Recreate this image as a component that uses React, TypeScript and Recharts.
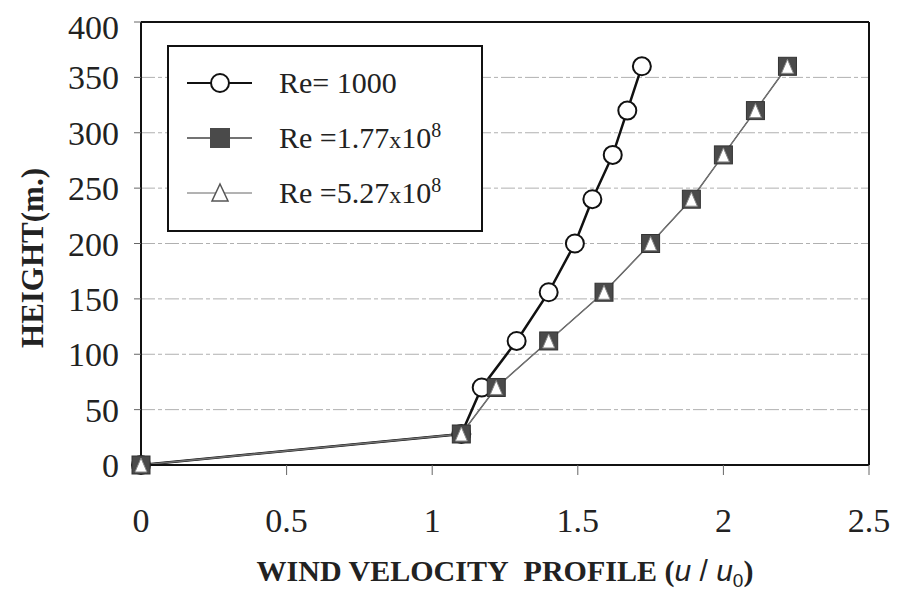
import { LineChart, Line, XAxis, YAxis, CartesianGrid, Legend, ReferenceLine } from 'recharts';

const heights = [0, 28, 70, 112, 156, 200, 240, 280, 320, 360];
const uRe1000 = [0, 1.1, 1.17, 1.29, 1.4, 1.49, 1.55, 1.62, 1.67, 1.72];
const uRe177 = [0, 1.1, 1.22, 1.4, 1.59, 1.75, 1.89, 2.0, 2.11, 2.22];
const uRe527 = [0, 1.1, 1.22, 1.4, 1.59, 1.75, 1.89, 2.0, 2.11, 2.22];
const xTicks = [0, 0.5, 1, 1.5, 2, 2.5];
const yTicks = [0, 50, 100, 150, 200, 250, 300, 350, 400];

const toPoints = (us: number[]) => us.map((u, i) => ({ u, h: heights[i] }));

const serif = '"Liberation Serif", "Times New Roman", serif';
const sans = '"Liberation Sans", Arial, sans-serif';

const CircleDot = (p: any) => {
  if (p.cx == null || p.cy == null) return <g key={p.index} />;
  return <circle key={p.index} cx={p.cx} cy={p.cy} r={9} fill="#fff" stroke="#111" strokeWidth={2} />;
};

const SquareDot = (p: any) => {
  if (p.cx == null || p.cy == null) return <g key={p.index} />;
  return <rect key={p.index} x={p.cx - 9} y={p.cy - 9} width={18} height={18} fill="#4a4a4a" stroke="#333" strokeWidth={1} />;
};

const TriangleDot = (p: any) => {
  if (p.cx == null || p.cy == null) return <g key={p.index} />;
  const { cx, cy } = p;
  return (
    <polygon
      key={p.index}
      points={`${cx},${cy - 7} ${cx + 6},${cy + 7} ${cx - 6},${cy + 7}`}
      fill="#fff"
      stroke="#888"
      strokeWidth={1}
    />
  );
};

const sup8 = <span style={{ position: 'relative', top: -11, fontSize: 20 }}>8</span>;

const LegendBox = () => {
  const row = (icon: any, label: any, top: number) => (
    <div style={{ position: 'absolute', left: 0, top: top - 20, height: 40, width: '100%' }}>
      <svg width={90} height={40} style={{ position: 'absolute', left: 16, top: 0 }}>
        {icon}
      </svg>
      <div style={{ position: 'absolute', left: 110, top: 0, lineHeight: '40px', fontSize: 30, whiteSpace: 'nowrap' }}>
        {label}
      </div>
    </div>
  );
  return (
    <div
      style={{
        position: 'relative',
        width: 312,
        height: 183,
        border: '2px solid #111',
        background: '#fff',
        fontFamily: serif,
        color: '#222',
      }}
    >
      {row(
        <g>
          <line x1={2} y1={20} x2={67} y2={20} stroke="#111" strokeWidth={2} />
          <circle cx={35} cy={20} r={9} fill="#fff" stroke="#111" strokeWidth={2} />
        </g>,
        <span>Re= 1000</span>,
        36,
      )}
      {row(
        <g>
          <line x1={2} y1={20} x2={67} y2={20} stroke="#444" strokeWidth={1.5} />
          <rect x={25} y={10} width={20} height={20} fill="#4a4a4a" />
        </g>,
        <span>
          Re =1.77<span style={{ fontSize: 24 }}>x</span>10{sup8}
        </span>,
        91,
      )}
      {row(
        <g>
          <line x1={2} y1={20} x2={67} y2={20} stroke="#666" strokeWidth={1} />
          <polygon points="35,11 43,28 27,28" fill="#fff" stroke="#555" strokeWidth={1.5} />
        </g>,
        <span>
          Re =5.27<span style={{ fontSize: 24 }}>x</span>10{sup8}
        </span>,
        146,
      )}
    </div>
  );
};

const XTitle = (props: any) => {
  const vb = props.viewBox || { x: 0, y: 0, width: 0, height: 0 };
  const cx = vb.x + vb.width / 2;
  return (
    <text x={cx} y={vb.y + 116} textAnchor="middle" style={{ fontFamily: serif, fontWeight: 'bold', fontSize: 30 }} fill="#222">
      WIND VELOCITY{'\u00a0\u00a0'}PROFILE (
      <tspan style={{ fontFamily: sans, fontStyle: 'italic', fontWeight: 'normal' }}>u</tspan>
      <tspan style={{ fontFamily: sans, fontWeight: 'normal' }}> / </tspan>
      <tspan style={{ fontFamily: sans, fontStyle: 'italic', fontWeight: 'normal' }}>u</tspan>
      <tspan style={{ fontFamily: sans, fontWeight: 'normal', fontSize: 19 }} dy={6}>0</tspan>
      <tspan dy={-6}>)</tspan>
    </text>
  );
};

const YTitle = () => {
  const cy = 250;
  const x = 24;
  return (
    <text
      x={x}
      y={cy}
      transform={`rotate(-90 ${x} ${cy})`}
      textAnchor="middle"
      dominantBaseline="central"
      style={{ fontFamily: serif, fontWeight: 'bold', fontSize: 31 }}
      fill="#222"
    >
      HEIGHT(m.)
    </text>
  );
};

export default function App() {
  return (
    <div style={{ fontFamily: serif }}>
      <LineChart width={891} height={594} margin={{ top: 14, right: 30, bottom: 0, left: 0 }} style={{ fontFamily: serif }}>
        <CartesianGrid vertical={false} stroke="#b0b0b0" strokeDasharray="14 3 4 3" />
        <XAxis
          type="number"
          dataKey="u"
          domain={[0, 2.5]}
          ticks={xTicks}
          height={137}
          axisLine={{ stroke: '#111', strokeWidth: 2 }}
          tickLine={{ stroke: '#666' }}
          tickSize={10}
          tickMargin={33}
          tick={{ fontFamily: serif, fontSize: 34, fill: '#222' }}
          label={<XTitle />}
        />
        <YAxis
          type="number"
          dataKey="h"
          domain={[0, 400]}
          ticks={yTicks}
          width={133}
          axisLine={{ stroke: '#111', strokeWidth: 2 }}
          tickLine={{ stroke: '#666' }}
          tickSize={7}
          tickMargin={15}
          tick={{ fontFamily: serif, fontSize: 34, fill: '#222' }}
          label={<YTitle />}
        />
        <ReferenceLine y={400} stroke="#111" strokeWidth={2} />
        <ReferenceLine x={2.5} stroke="#111" strokeWidth={2} />
        <Legend
          layout="horizontal"
          verticalAlign="middle"
          align="center"
          content={<LegendBox />}
          wrapperStyle={{ left: 159, top: 37, width: 316, height: 187 }}
        />
        <Line
          data={toPoints(uRe1000)}
          dataKey="h"
          name="Re= 1000"
          type="linear"
          stroke="#111"
          strokeWidth={2.5}
          dot={CircleDot}
          isAnimationActive={false}
        />
        <Line
          data={toPoints(uRe177)}
          dataKey="h"
          name="Re =1.77x10^8"
          type="linear"
          stroke="#555"
          strokeWidth={1.5}
          dot={SquareDot}
          isAnimationActive={false}
        />
        <Line
          data={toPoints(uRe527)}
          dataKey="h"
          name="Re =5.27x10^8"
          type="linear"
          stroke="#777"
          strokeWidth={1}
          dot={TriangleDot}
          isAnimationActive={false}
        />
      </LineChart>
    </div>
  );
}
